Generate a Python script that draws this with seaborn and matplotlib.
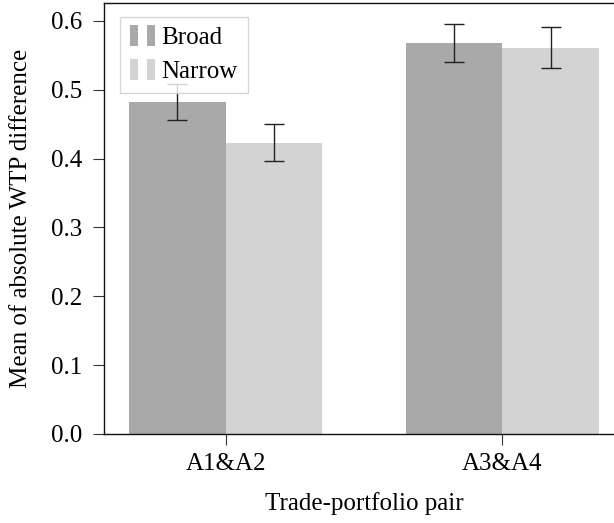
import matplotlib
matplotlib.use("Agg")
import matplotlib.pyplot as plt
import matplotlib.patches as mpatches
from matplotlib.legend_handler import HandlerBase
import seaborn as sns
import pandas as pd

# Mean absolute WTP difference per trade-portfolio pair and framing
pairs = ["A1&A2", "A3&A4"]
framings = ["Broad", "Narrow"]
broad_means = [0.482, 0.568]
narrow_means = [0.423, 0.561]
broad_err = [0.026, 0.028]
narrow_err = [0.027, 0.030]

colors = {"Broad": "#a9a9a9", "Narrow": "#d3d3d3"}

df = pd.DataFrame({
    "pair": pairs * 2,
    "framing": ["Broad"] * len(pairs) + ["Narrow"] * len(pairs),
    "mean": broad_means + narrow_means,
    "err": broad_err + narrow_err,
})

sns.set_style("ticks")
plt.rcParams["font.family"] = ["Liberation Serif", "DejaVu Serif"]
plt.rcParams["text.color"] = "black"
plt.rcParams["axes.labelcolor"] = "black"
plt.rcParams["xtick.color"] = "black"
plt.rcParams["ytick.color"] = "black"

fig = plt.figure(figsize=(6.14, 5.23), dpi=100)
ax = fig.add_axes([104 / 614, 89 / 523, 520 / 614, 431 / 523])

sns.barplot(data=df, x="pair", y="mean", hue="framing", order=pairs,
            hue_order=framings, palette=colors, width=0.7, saturation=1,
            errorbar=None, legend=False, linewidth=0, ax=ax)

# Error bars centred on each drawn bar
bars = [p for p in ax.patches if isinstance(p, mpatches.Rectangle)]
for bar, (_, row) in zip(bars, df.iterrows()):
    cx = bar.get_x() + bar.get_width() / 2
    ax.errorbar(cx, row["mean"], yerr=row["err"], fmt="none",
                ecolor="#222222", elinewidth=1.0, capsize=7, capthick=1.0,
                zorder=3)

ax.set_xlim(-0.439, 1.439)
ax.set_ylim(0, 0.626)
ax.set_yticks([0.0, 0.1, 0.2, 0.3, 0.4, 0.5, 0.6])
ax.set_yticklabels([f"{v:.1f}" for v in [0.0, 0.1, 0.2, 0.3, 0.4, 0.5, 0.6]])
ax.tick_params(axis="both", labelsize=18, length=8, width=0.8,
               color="#333333", labelcolor="black")
ax.tick_params(axis="x", pad=6)
ax.tick_params(axis="y", pad=7.5)
ax.set_xlabel("Trade-portfolio pair", fontsize=18, labelpad=12, color="black")
ax.set_ylabel("Mean of absolute WTP difference", fontsize=18, labelpad=14,
              color="black")
for s in ax.spines.values():
    s.set_linewidth(1.0)
    s.set_color("#111111")


class TwinBarHandler(HandlerBase):
    """Legend key drawn as two narrow bars side by side."""
    def create_artists(self, legend, orig_handle, xdescent, ydescent,
                       width, height, fontsize, trans):
        bw = width * 0.33
        h = height * 1.2
        y0 = -ydescent + (height - h) / 2
        arts = []
        for x0 in (-xdescent, -xdescent + width - bw):
            r = mpatches.Rectangle((x0, y0), bw, h,
                                   facecolor=orig_handle.get_facecolor(),
                                   edgecolor="none", transform=trans)
            arts.append(r)
        return arts


handles = [mpatches.Patch(facecolor=colors[f]) for f in framings]
leg = ax.legend(handles, framings, loc="upper left",
                bbox_to_anchor=(16 / 520, 1 - 14 / 431), borderaxespad=0,
                fontsize=18, frameon=True, fancybox=False,
                handlelength=1.0, handletextpad=0.25, borderpad=0.4,
                labelspacing=0.45,
                handler_map={mpatches.Patch: TwinBarHandler()})
leg.get_frame().set_edgecolor("#cccccc")
leg.get_frame().set_linewidth(1.0)
leg.get_frame().set_alpha(0.8)
leg.set_zorder(5)

fig.savefig("out.png", dpi=100)
